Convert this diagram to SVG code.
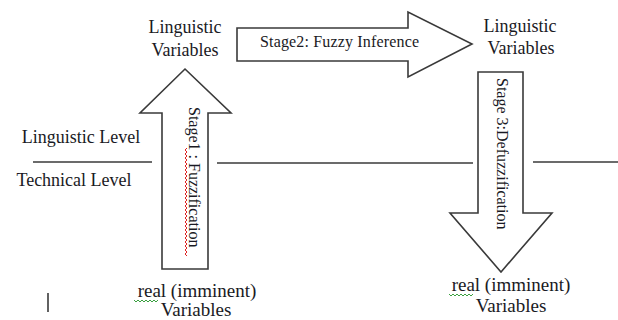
<svg xmlns="http://www.w3.org/2000/svg" width="618" height="320" viewBox="0 0 618 320">
<style>
.t{font-family:"Liberation Serif","Times New Roman",serif;font-size:18px;fill:#1a1a24}
.r{font-size:19px}
.s{font-family:"Liberation Serif","Times New Roman",serif;font-size:16px;fill:#1a1a24}
.arrow{fill:#ffffff;stroke:#3a3a3a;stroke-width:1.6;stroke-linejoin:miter}
.line{stroke:#3a3a3a;stroke-width:1.6;fill:none}
.red{stroke:#e02020;stroke-width:1;fill:none}
.green{stroke:#3aa040;stroke-width:1;fill:none}
</style>
<rect width="618" height="320" fill="#ffffff"/>
<g id="connectors">
<line class="line" x1="33" y1="162" x2="152" y2="162"/>
<line class="line" x1="217" y1="163" x2="473" y2="163"/>
<line class="line" x1="533" y1="162" x2="618" y2="162"/>
<line class="line" x1="48" y1="293" x2="48" y2="312"/>
</g>
<g id="stage2">
<polygon class="arrow" points="237,28 408,28 408,12 472,44 408,77 408,61 237,61"/>
<text class="s" x="260" y="47" textLength="159">Stage2: Fuzzy Inference</text>
</g>
<g id="stage1">
<polygon class="arrow" points="185,69 231,113 208,113 208,269 162,269 162,113 140,113"/>
<text class="s" transform="translate(189,107) rotate(90)">Stage1 : Fuzzification</text>
<path class="red" d="M187,148 l-2,2 l2,2 l-2,2 l2,2 l-2,2 l2,2 l-2,2 l2,2 l-2,2 l2,2 l-2,2 l2,2 l-2,2 l2,2 l-2,2 l2,2 l-2,2 l2,2 l-2,2 l2,2 l-2,2 l2,2 l-2,2 l2,2 l-2,2 l2,2 l-2,2 l2,2 l-2,2 l2,2 l-2,2 l2,2 l-2,2 l2,2 l-2,2 l2,2 l-2,2 l2,2 l-2,2 l2,2 l-2,2 l2,2 l-2,2 l2,2 l-2,2 l2,2 l-2,2 l2,2 l-2,2 l2,2 l-2,2 l2,2 l-2,2 l2,2"/>
</g>
<g id="stage3">
<polygon class="arrow" points="478,72 523,72 523,213 552,213 501,272 450,213 478,213"/>
<text class="s" transform="translate(497,78) rotate(90)">Stage 3:Defuzzification</text>
</g>
<g id="ling-vars-left">
<text class="t" x="185" y="33" text-anchor="middle">Linguistic</text>
<text class="t" x="185" y="56" text-anchor="middle">Variables</text>
</g>
<g id="ling-vars-right">
<text class="t" x="520" y="32" text-anchor="middle">Linguistic</text>
<text class="t" x="521" y="54" text-anchor="middle">Variables</text>
</g>
<g id="levels">
<text class="t" x="81" y="143" text-anchor="middle">Linguistic Level</text>
<text class="t" x="74" y="186" text-anchor="middle">Technical Level</text>
</g>
<g id="real-left">
<text class="t r" x="197" y="297" text-anchor="middle">real (imminent)</text>
<text class="t r" x="196" y="316" text-anchor="middle">Variables</text>
<path class="green" d="M134,300 l2,2 l2,-2 l2,2 l2,-2 l2,2 l2,-2 l2,2 l2,-2 l2,2 l2,-2 l2,2 l2,-2"/>
</g>
<g id="real-right">
<text class="t r" x="511" y="291" text-anchor="middle">real (imminent)</text>
<text class="t r" x="511" y="312" text-anchor="middle">Variables</text>
<path class="green" d="M449,294 l2,2 l2,-2 l2,2 l2,-2 l2,2 l2,-2 l2,2 l2,-2 l2,2 l2,-2 l2,2 l2,-2"/>
</g>
</svg>
